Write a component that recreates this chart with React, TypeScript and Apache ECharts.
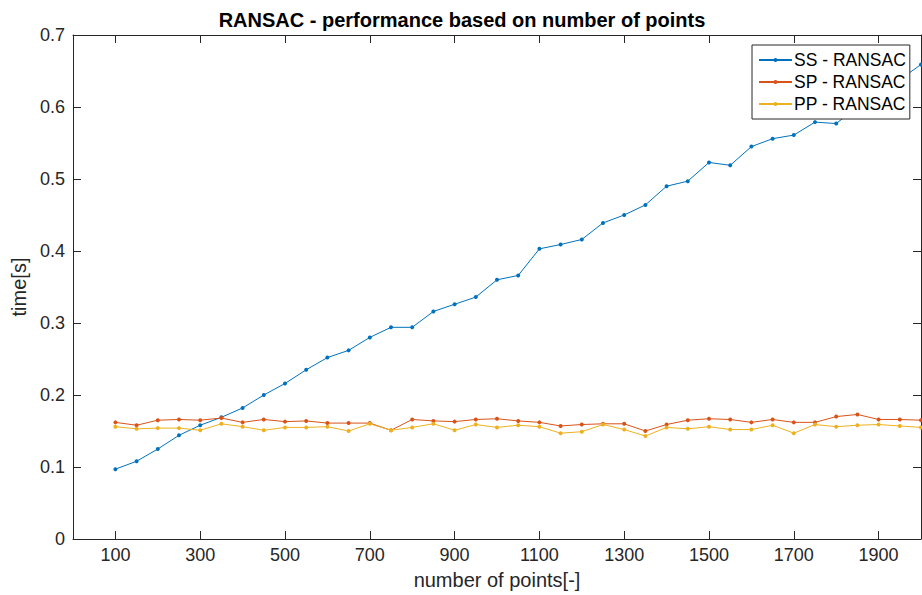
import React, { useEffect, useRef } from "react";
import * as echarts from "echarts";

const xPoints = [100,150,200,250,300,350,400,450,500,550,600,650,700,750,800,850,900,950,1000,1050,1100,1150,1200,1250,1300,1350,1400,1450,1500,1550,1600,1650,1700,1750,1800,1850,1900,1950,2000];
const ssValues = [0.097,0.108,0.125,0.144,0.158,0.169,0.182,0.200,0.216,0.235,0.252,0.262,0.280,0.294,0.294,0.316,0.326,0.336,0.360,0.366,0.403,0.409,0.416,0.439,0.450,0.464,0.490,0.497,0.523,0.519,0.545,0.556,0.561,0.579,0.577,0.600,0.620,0.638,0.659];
const spValues = [0.162,0.158,0.165,0.166,0.165,0.168,0.162,0.166,0.163,0.164,0.161,0.161,0.161,0.151,0.166,0.164,0.163,0.166,0.167,0.164,0.162,0.157,0.159,0.160,0.160,0.150,0.159,0.165,0.167,0.166,0.162,0.166,0.162,0.162,0.170,0.173,0.166,0.166,0.165];
const ppValues = [0.156,0.153,0.154,0.154,0.151,0.160,0.156,0.151,0.155,0.155,0.156,0.150,0.160,0.151,0.155,0.160,0.151,0.159,0.155,0.158,0.156,0.147,0.149,0.159,0.152,0.143,0.155,0.153,0.156,0.152,0.152,0.158,0.147,0.159,0.156,0.158,0.159,0.157,0.155];
const xTicks = [100,300,500,700,900,1100,1300,1500,1700,1900];
const seriesNames = ["SS - RANSAC", "SP - RANSAC", "PP - RANSAC"];
const colors = ["#0072BD", "#D95319", "#EDB120"];

const FONT = "'Liberation Sans', Arial, Helvetica, sans-serif";
const AX = "#262626";

export default function App() {
  const ref = useRef<HTMLDivElement>(null);
  useEffect(() => {
    if (!ref.current) return;
    const chart = echarts.init(ref.current, undefined, { renderer: "svg" });
    const all = [ssValues, spValues, ppValues];
    const tickCommon = { show: true, inside: true, length: 8, lineStyle: { color: AX, width: 1 } };
    const lineCommon = { show: true, onZero: false, lineStyle: { color: AX, width: 1 } };
    chart.setOption({
      animation: false,
      backgroundColor: "#fff",
      textStyle: { fontFamily: FONT },
      title: {
        text: "RANSAC - performance based on number of points",
        left: 457,
        textAlign: "center",
        top: 5,
        textStyle: { fontFamily: FONT, fontSize: 20, fontWeight: "bold", color: "#000" },
      },
      grid: { left: 73, right: 1, top: 35, bottom: 56, containLabel: false },
      legend: {
        orient: "vertical",
        left: 752,
        top: 45,
        width: 159,
        padding: [6, 4, 6, 6],
        itemWidth: 33,
        itemHeight: 5,
        itemGap: 4,
        backgroundColor: "#fff",
        borderColor: AX,
        borderWidth: 1,
        borderRadius: 0,
        textStyle: { fontFamily: FONT, fontSize: 17.5, color: "#000", padding: [0, 0, 0, -3] },
        data: seriesNames,
      },
      xAxis: [
        {
          type: "value", position: "bottom", min: 0, max: 2000,
          name: "number of points[-]", nameLocation: "middle", nameGap: 31,
          nameTextStyle: { fontFamily: FONT, fontSize: 20, color: AX },
          axisLine: lineCommon,
          axisTick: { ...tickCommon, customValues: xTicks },
          axisLabel: { customValues: xTicks, margin: 7, fontFamily: FONT, fontSize: 18, color: AX, formatter: (v: number) => String(v) },
          splitLine: { show: false },
        },
        {
          type: "value", position: "top", min: 0, max: 2000,
          axisLine: lineCommon,
          axisTick: { ...tickCommon, customValues: xTicks },
          axisLabel: { show: false, customValues: xTicks },
          splitLine: { show: false },
        },
      ],
      yAxis: [
        {
          type: "value", position: "left", min: 0, max: 0.7, interval: 0.1,
          name: "time[s]", nameLocation: "middle", nameGap: 44,
          nameTextStyle: { fontFamily: FONT, fontSize: 20, color: AX },
          axisLine: lineCommon,
          axisTick: tickCommon,
          axisLabel: {
            margin: 8, fontFamily: FONT, fontSize: 18, color: AX,
            formatter: (v: number) => String(Math.round(v * 10) / 10),
          },
          splitLine: { show: false },
        },
        {
          type: "value", position: "right", min: 0, max: 0.7, interval: 0.1,
          axisLine: lineCommon,
          axisTick: tickCommon,
          axisLabel: { show: false },
          splitLine: { show: false },
        },
      ],
      series: all.map((vals, i) => ({
        name: seriesNames[i],
        type: "line",
        xAxisIndex: 0,
        yAxisIndex: 0,
        data: xPoints.map((x, j) => [x, vals[j]]),
        symbol: "circle",
        symbolSize: 4,
        showSymbol: true,
        color: colors[i],
        lineStyle: { color: colors[i], width: 1 },
        itemStyle: { color: colors[i] },
        z: 2 + i,
      })),
    });
    return () => chart.dispose();
  }, []);
  return <div ref={ref} style={{ position: "fixed", left: 0, top: 0, width: 922, height: 595 }} />;
}
